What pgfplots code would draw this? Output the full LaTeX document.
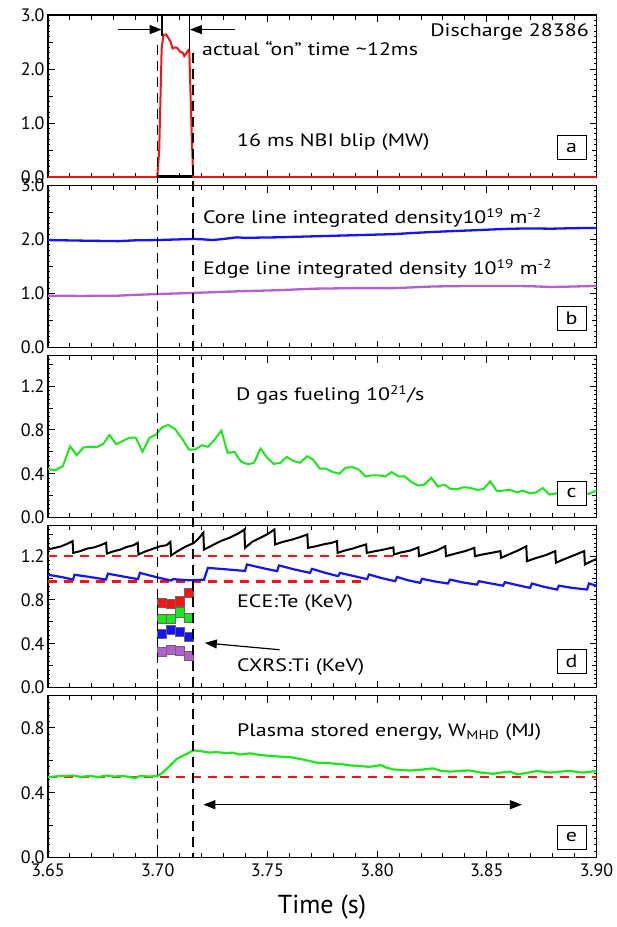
\documentclass[border=0pt]{standalone}
\usepackage{fontspec}
\setmainfont{PT Sans}
\newfontfamily\annfont[FakeStretch=1.22]{PT Sans}
\usepackage{pgfplots}
\pgfplotsset{compat=1.18}
\usetikzlibrary{arrows.meta}
\definecolor{sgreen}{RGB}{30,230,30}
\definecolor{spurple}{RGB}{180,95,210}
\definecolor{sblue}{RGB}{20,20,245}
\definecolor{sred}{RGB}{245,20,20}
\newcommand\ann{\annfont\fontsize{18}{21}\selectfont}
\pgfplotsset{
  panel/.style={
    scale only axis, width=548.5pt, height=162pt,
    xmin=3.65, xmax=3.90,
    xtick={3.65,3.70,3.75,3.80,3.85,3.90},
    minor x tick num=4,
    tick align=inside,
    xtick pos=both, ytick pos=both,
    major tick length=7pt, minor tick length=4.5pt,
    axis line style={line width=1.4pt},
    every tick/.style={black, line width=0.9pt},
    tick label style={font=\fontsize{18}{18}\selectfont},
    /pgf/number format/assume math mode=true,
    yticklabel style={/pgf/number format/.cd, fixed, fixed zerofill, precision=1},
    xticklabel style={yshift=-3pt},
    xticklabels={},
    extra tick style={major tick length=2.2pt},
    extra y tick labels={},
  },
}
\tikzset{lbox/.style={draw=black, line width=0.8pt, minimum width=29pt, minimum height=24pt, inner sep=0pt, fill=white},
  rdash/.style={sred, line width=2.2pt, dash pattern=on 9pt off 7pt}}
\begin{document}
\begin{tikzpicture}
\useasboundingbox (0,0) rectangle (617pt,-927pt);
% ---------------- panel a
\begin{axis}[panel, at={(48pt,-15pt)}, anchor=north west,
  ymin=0, ymax=3, ytick={0,1,2,3}, minor ytick={0.5,1.5,2.5},
  extra y ticks={0.1,0.2,0.3,0.4,0.6,0.7,0.8,0.9,1.1,1.2,1.3,1.4,1.6,1.7,1.8,1.9,2.1,2.2,2.3,2.4,2.6,2.7,2.8,2.9}]
\addplot[sred, line width=2pt] coordinates {
(3.6500,0) (3.6998,0) (3.7007,0.50) (3.7018,2.38) (3.7026,2.63) (3.7038,2.64)
(3.7048,2.58) (3.7059,2.50) (3.7068,2.38) (3.7079,2.40) (3.7089,2.39) (3.7102,2.32)
(3.7114,2.30) (3.7121,2.24) (3.7129,2.28) (3.7140,2.35) (3.7144,2.33) (3.7155,0.80)
(3.7160,0.19) (3.7162,0) (3.9000,0)};
\addplot[black, line width=1.2pt] coordinates {(3.7000,0.03) (3.7162,0.03)};
\draw[line width=1.2pt] (axis cs:3.7020,3) -- (axis cs:3.7020,2.62);
\draw[line width=1.2pt] (axis cs:3.7145,3) -- (axis cs:3.7145,2.33);
\draw[line width=1.2pt, -{Triangle[length=12pt,width=9pt]}] (axis cs:3.6821,2.73) -- (axis cs:3.7018,2.73);
\draw[line width=1.2pt, -{Triangle[length=12pt,width=9pt]}] (axis cs:3.7352,2.73) -- (axis cs:3.7147,2.73);
\coordinate (da1) at (axis cs:3.700,2.45);
\coordinate (da2) at (axis cs:3.716,2.30);
\end{axis}
% ---------------- panel b
\begin{axis}[panel, at={(48pt,-185.5pt)}, anchor=north west,
  ymin=0, ymax=3, ytick={0,1,2,3}, minor ytick={0.5,1.5,2.5},
  extra y ticks={0.1,0.2,0.3,0.4,0.6,0.7,0.8,0.9,1.1,1.2,1.3,1.4,1.6,1.7,1.8,1.9,2.1,2.2,2.3,2.4,2.6,2.7,2.8,2.9}]
\addplot[sblue, line width=2.3pt] coordinates {
(3.650,1.99) (3.657,1.985) (3.664,1.98) (3.672,1.975) (3.682,1.97) (3.690,1.985) (3.700,1.99)
(3.708,2.00) (3.716,2.01) (3.720,2.005) (3.725,1.99) (3.730,2.01) (3.736,2.04) (3.740,2.03)
(3.746,2.035) (3.754,2.04) (3.763,2.05) (3.772,2.06) (3.781,2.07) (3.790,2.08) (3.799,2.09)
(3.808,2.10) (3.816,2.12) (3.8255,2.14) (3.834,2.155) (3.8435,2.17) (3.852,2.185) (3.8614,2.20)
(3.870,2.205) (3.8794,2.20) (3.890,2.21) (3.900,2.215)};
\addplot[spurple, line width=2.3pt] coordinates {
(3.650,0.96) (3.665,0.955) (3.682,0.96) (3.690,0.975) (3.700,0.99) (3.708,1.00) (3.716,1.01)
(3.726,1.025) (3.736,1.04) (3.745,1.05) (3.754,1.06) (3.763,1.075) (3.772,1.09) (3.781,1.095)
(3.790,1.10) (3.799,1.10) (3.808,1.10) (3.817,1.115) (3.8255,1.13) (3.834,1.135) (3.8435,1.14)
(3.852,1.14) (3.8614,1.14) (3.870,1.135) (3.8794,1.12) (3.890,1.13) (3.900,1.14)};
\end{axis}
% ---------------- panel c
\begin{axis}[panel, at={(48pt,-355.5pt)}, anchor=north west,
  ymin=0, ymax=1.48, ytick={0,0.4,0.8,1.2}, minor ytick={0.2,0.6,1.0,1.4},
  extra y ticks={0.04,0.08,...,1.46}]
\addplot[sgreen, line width=2pt] coordinates {
(3.6500,0.446) (3.6532,0.430) (3.6568,0.470) (3.6601,0.650) (3.6631,0.570) (3.6662,0.640)
(3.6694,0.646) (3.6726,0.646) (3.6751,0.670) (3.6780,0.754) (3.6811,0.670) (3.6841,0.700)
(3.6873,0.730) (3.6900,0.730) (3.6931,0.600) (3.6963,0.730) (3.6990,0.754) (3.7021,0.825)
(3.7049,0.846) (3.7080,0.806) (3.7110,0.723) (3.7143,0.620) (3.7170,0.620) (3.7200,0.660)
(3.7229,0.646) (3.7259,0.710) (3.7290,0.794) (3.7319,0.590) (3.7349,0.600) (3.7380,0.510)
(3.7412,0.486) (3.7439,0.500) (3.7469,0.630) (3.7498,0.548) (3.7529,0.490) (3.7559,0.500)
(3.7588,0.554) (3.7618,0.517) (3.7649,0.500) (3.7681,0.560) (3.7708,0.530) (3.7739,0.446)
(3.7767,0.446) (3.7798,0.415) (3.7828,0.400) (3.7857,0.455) (3.7888,0.460) (3.7918,0.437)
(3.7947,0.375) (3.7977,0.385) (3.8008,0.385) (3.8037,0.375) (3.8067,0.415) (3.8098,0.375)
(3.8126,0.375) (3.8157,0.323) (3.8187,0.292) (3.8216,0.300) (3.8247,0.363) (3.8277,0.283)
(3.8306,0.300) (3.8336,0.260) (3.8367,0.260) (3.8396,0.277) (3.8426,0.270) (3.8457,0.252)
(3.8485,0.260) (3.8516,0.332) (3.8546,0.240) (3.8575,0.246) (3.8606,0.252) (3.8636,0.230)
(3.8665,0.246) (3.8695,0.220) (3.8726,0.230) (3.8755,0.270) (3.8785,0.210) (3.8816,0.220)
(3.8844,0.230) (3.8875,0.220) (3.8905,0.220) (3.8934,0.246) (3.8964,0.215) (3.9000,0.246)};
\end{axis}
% ---------------- panel d
\begin{axis}[panel, at={(48pt,-525.5pt)}, anchor=north west,
  ymin=0, ymax=1.48, ytick={0,0.4,0.8,1.2}, minor ytick={0.2,0.6,1.0,1.4},
  extra y ticks={0.04,0.08,...,1.46}]
\addplot[rdash] coordinates {(3.650,1.20) (3.814,1.20)};
\addplot[rdash] coordinates {(3.650,0.968) (3.795,0.968)};
\addplot[black, line width=2pt] coordinates {
(3.6500,1.26) (3.6530,1.275) (3.6560,1.29) (3.6590,1.315) (3.6612,1.337) (3.6615,1.23)
(3.6645,1.245) (3.6680,1.27) (3.6710,1.28) (3.6740,1.30) (3.6765,1.322) (3.6768,1.224)
(3.6800,1.245) (3.6830,1.26) (3.6860,1.285) (3.6890,1.30) (3.6909,1.322) (3.6912,1.215)
(3.6940,1.24) (3.6975,1.265) (3.7010,1.29) (3.7040,1.30) (3.7058,1.33) (3.7061,1.206)
(3.7090,1.245) (3.7130,1.29) (3.7165,1.32) (3.7190,1.37) (3.7208,1.414) (3.7211,1.26)
(3.7250,1.30) (3.7290,1.34) (3.7330,1.37) (3.7370,1.41) (3.7395,1.444) (3.7398,1.276)
(3.7430,1.33) (3.7460,1.36) (3.7500,1.40) (3.7532,1.444) (3.7535,1.307)
(3.7570,1.33) (3.7610,1.35) (3.7650,1.375) (3.7682,1.398) (3.7685,1.276)
(3.7720,1.29) (3.7760,1.31) (3.7790,1.32) (3.7817,1.337) (3.7820,1.23)
(3.7850,1.25) (3.7890,1.27) (3.7920,1.29) (3.7950,1.307) (3.7953,1.23)
(3.7990,1.245) (3.8030,1.26) (3.8074,1.28) (3.8077,1.215)
(3.8110,1.235) (3.8150,1.25) (3.8188,1.28) (3.8191,1.20)
(3.8230,1.225) (3.8270,1.25) (3.8311,1.29) (3.8314,1.20)
(3.8350,1.22) (3.8400,1.245) (3.8443,1.276) (3.8446,1.20)
(3.8480,1.215) (3.8520,1.23) (3.8562,1.246) (3.8565,1.185)
(3.8600,1.215) (3.8640,1.25) (3.8680,1.29) (3.8683,1.154)
(3.8720,1.18) (3.8770,1.21) (3.8812,1.246) (3.8815,1.14)
(3.8850,1.17) (3.8900,1.21) (3.8944,1.246) (3.8947,1.124) (3.9000,1.176)};
\addplot[sblue, line width=2.2pt] coordinates {
(3.6500,1.03) (3.6560,1.01) (3.6614,0.986) (3.6621,1.03) (3.6690,1.01) (3.6764,0.986) (3.6773,1.04)
(3.6840,1.015) (3.6910,0.99) (3.6919,1.047) (3.6990,1.01) (3.7061,0.977) (3.7070,0.99)
(3.7140,0.98) (3.7211,0.985) (3.7229,1.093) (3.7310,1.08) (3.7398,1.065) (3.7407,1.124)
(3.7480,1.09) (3.7544,1.063) (3.7553,1.115) (3.7620,1.08) (3.7694,1.047) (3.7703,1.084)
(3.7760,1.05) (3.7822,1.017) (3.7831,1.047) (3.7890,1.02) (3.7954,0.99) (3.7963,1.032)
(3.8020,1.00) (3.8082,0.971) (3.8091,1.01) (3.8140,0.98) (3.8196,0.956) (3.8205,0.993)
(3.8260,0.97) (3.8323,0.95) (3.8332,0.986) (3.8390,0.96) (3.8455,0.94) (3.8464,0.971)
(3.8520,0.95) (3.8574,0.93) (3.8583,0.962) (3.8640,0.935) (3.8697,0.91) (3.8706,0.95)
(3.8760,0.92) (3.8820,0.895) (3.8829,0.93) (3.8890,0.91) (3.8957,0.895) (3.8966,0.95) (3.9000,0.93)};
\addplot[only marks, mark=square*, mark size=4.6pt, mark options={fill=sred, draw=black!60, line width=0.5pt}] coordinates {
(3.7018,0.773) (3.7059,0.766) (3.7102,0.788) (3.7140,0.864)};
\addplot[only marks, mark=square*, mark size=4.6pt, mark options={fill=sgreen, draw=black!60, line width=0.5pt}] coordinates {
(3.7018,0.626) (3.7059,0.626) (3.7102,0.687) (3.7140,0.636)};
\addplot[only marks, mark=square*, mark size=4.6pt, mark options={fill=sblue, draw=black!60, line width=0.5pt}] coordinates {
(3.7018,0.492) (3.7059,0.528) (3.7102,0.507) (3.7140,0.461)};
\addplot[only marks, mark=square*, mark size=4.6pt, mark options={fill=spurple, draw=black!60, line width=0.5pt}] coordinates {
(3.7018,0.330) (3.7059,0.345) (3.7102,0.339) (3.7140,0.290)};
\draw[line width=1.2pt, -{Triangle[length=12pt,width=9pt]}] (axis cs:3.7556,0.345) -- (axis cs:3.7215,0.407);
\end{axis}
% ---------------- panel e
\begin{axis}[panel, at={(48pt,-695.5pt)}, anchor=north west,
  ymin=0, ymax=1.0, ytick={0,0.4,0.8}, minor ytick={0.2,0.6,1.0},
  extra y ticks={0.04,0.08,...,0.98},
  xticklabels={3.65,3.70,3.75,3.80,3.85,3.90}]
\addplot[rdash] coordinates {(3.650,0.495) (3.900,0.495)};
\addplot[sgreen, line width=2.2pt] coordinates {
(3.6500,0.497) (3.6560,0.503) (3.6614,0.506) (3.6650,0.498) (3.6691,0.503) (3.6730,0.497)
(3.6769,0.506) (3.6800,0.500) (3.6842,0.503) (3.6870,0.497) (3.6897,0.490) (3.6919,0.503)
(3.6960,0.500) (3.6997,0.502) (3.7020,0.520) (3.7042,0.548) (3.7065,0.580) (3.7088,0.609)
(3.7110,0.625) (3.7134,0.640) (3.7161,0.661) (3.7193,0.658) (3.7230,0.648) (3.7270,0.650)
(3.7310,0.645) (3.7343,0.647) (3.7375,0.635) (3.7421,0.643) (3.7470,0.632) (3.7526,0.626)
(3.7565,0.622) (3.7603,0.620) (3.7662,0.605) (3.7726,0.585) (3.7772,0.585) (3.7810,0.578)
(3.7845,0.575) (3.7880,0.568) (3.7922,0.565) (3.7960,0.560) (3.7998,0.565) (3.8013,0.572)
(3.8040,0.556) (3.8072,0.544) (3.8110,0.540) (3.8150,0.537) (3.8200,0.542) (3.8255,0.550)
(3.8290,0.535) (3.8332,0.530) (3.8380,0.535) (3.8423,0.537) (3.8470,0.525) (3.8528,0.517)
(3.8570,0.525) (3.8606,0.530) (3.8638,0.513) (3.8680,0.522) (3.8729,0.534) (3.8788,0.524)
(3.8830,0.530) (3.8879,0.534) (3.8938,0.524) (3.9000,0.534)};
\draw[line width=1.2pt, {Triangle[length=12pt,width=9pt]}-{Triangle[length=12pt,width=9pt]}] (axis cs:3.7208,0.326) -- (axis cs:3.8660,0.326);
\coordinate (de1) at (axis cs:3.700,0);
\coordinate (de2) at (axis cs:3.716,0);
\end{axis}
% dashed markers
\draw[line width=1.4pt, dash pattern=on 10pt off 6pt] (da1) -- (de1);
\draw[line width=1.4pt, dash pattern=on 10pt off 6pt] (da2) -- (de2);
% annotations
\node[anchor=west, inner sep=0pt] at (202pt,-49pt) {\ann actual “on” time \textasciitilde 12ms};
\node[anchor=east, inner sep=0pt] at (589pt,-32pt) {\ann Discharge 28386};
\node[anchor=west, inner sep=0pt] at (237pt,-142pt) {\ann 16 ms NBI blip (MW)};
\node[anchor=west, inner sep=0pt] at (203pt,-218pt) {\ann Core line integrated density10\textsuperscript{19} m\textsuperscript{-2}};
\node[anchor=west, inner sep=0pt] at (203pt,-269pt) {\ann Edge line integrated density 10\textsuperscript{19} m\textsuperscript{-2}};
\node[anchor=west, inner sep=0pt] at (236pt,-395pt) {\ann D gas fueling 10\textsuperscript{21}/s};
\node[anchor=west, inner sep=0pt] at (237pt,-603pt) {\ann ECE:Te (KeV)};
\node[anchor=west, inner sep=0pt] at (237pt,-667pt) {\ann CXRS:Ti (KeV)};
\node[anchor=west, inner sep=0pt] at (237pt,-732pt) {\ann Plasma stored energy, W\textsubscript{MHD} (MJ)};
\node[lbox] at (571.5pt,-147.5pt) {\ann a};
\node[lbox] at (571.5pt,-318.5pt) {\ann b};
\node[lbox] at (571.5pt,-493pt) {\ann c};
\node[lbox] at (571.5pt,-661.5pt) {\ann d};
\node[lbox] at (571.5pt,-837pt) {\ann e};
\node[font=\fontsize{26}{26}\selectfont] at (322pt,-907pt) {Time (s)};
\end{tikzpicture}
\end{document}
